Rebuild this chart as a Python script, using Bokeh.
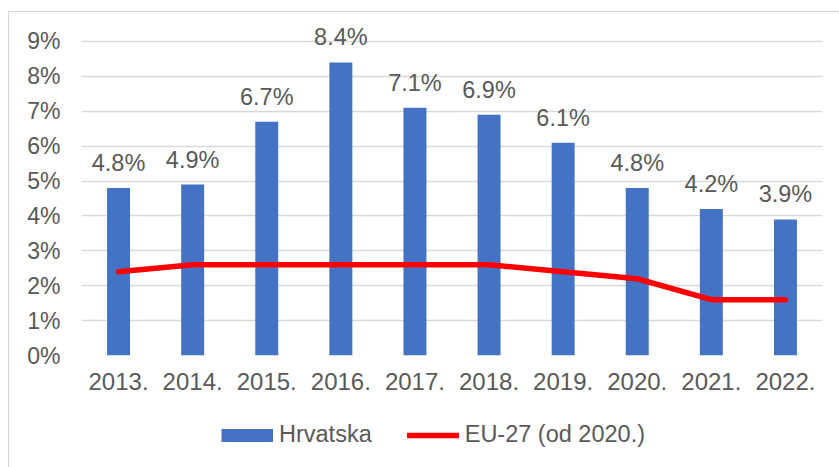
from bokeh.plotting import figure
from bokeh.models import ColumnDataSource, Range1d, FixedTicker, Legend, LegendItem
from bokeh.layouts import column
from bokeh.core.properties import value
from bokeh.embed import file_html
from bokeh.resources import INLINE

years = ["2013.", "2014.", "2015.", "2016.", "2017.", "2018.", "2019.", "2020.", "2021.", "2022."]
hrvatska = [4.8, 4.9, 6.7, 8.4, 7.1, 6.9, 6.1, 4.8, 4.2, 3.9]
eu27 = [2.4, 2.6, 2.6, 2.6, 2.6, 2.6, 2.4, 2.2, 1.6, 1.6]
y_ticks = [0, 1, 2, 3, 4, 5, 6, 7, 8, 9]
y_tick_labels = ["0%", "1%", "2%", "3%", "4%", "5%", "6%", "7%", "8%", "9%"]
bar_labels = [f"{v}%" for v in hrvatska]
series_names = ["Hrvatska", "EU-27 (od 2020.)"]

FONT = "Liberation Sans"
TXT = "#595959"
BLUE = "#4472C4"
RED = "#FF0000"

src = ColumnDataSource(dict(x=years, h=hrvatska, eu=eu27, lab=bar_labels))

p1 = figure(x_range=years, y_range=Range1d(0, 9.6), width=830, height=396,
            output_backend="svg", toolbar_location=None,
            min_border_left=72, min_border_right=17, min_border_top=8, min_border_bottom=53)
p1.outline_line_color = None
p1.background_fill_color = "white"
p1.border_fill_color = "white"

p1.vbar(x="x", top="h", width=0.31, source=src, fill_color=BLUE, line_color=None)
p1.line(x="x", y="eu", source=src, line_color=RED, line_width=5.5,
        line_cap="round", line_join="round")
p1.text(x="x", y="h", text="lab", source=src, text_align="center", text_baseline="alphabetic",
        y_offset=-25, text_font=value(FONT), text_font_size="23.5px", text_color=TXT)

p1.xaxis.axis_line_color = None
p1.xaxis.major_tick_line_color = None
p1.xaxis.minor_tick_line_color = None
p1.xaxis.major_tick_out = 0
p1.xaxis.major_tick_in = 0
p1.xaxis.major_label_standoff = 17
p1.xaxis.major_label_text_font = FONT
p1.xaxis.major_label_text_font_size = "24px"
p1.xaxis.major_label_text_color = TXT

p1.yaxis.ticker = FixedTicker(ticks=y_ticks)
p1.yaxis.major_label_overrides = {t: l for t, l in zip(y_ticks, y_tick_labels)}
p1.yaxis.axis_line_color = None
p1.yaxis.major_tick_line_color = None
p1.yaxis.minor_tick_line_color = None
p1.yaxis.major_tick_out = 0
p1.yaxis.major_tick_in = 0
p1.yaxis.major_label_standoff = 21
p1.yaxis.major_label_text_font = FONT
p1.yaxis.major_label_text_font_size = "23px"
p1.yaxis.major_label_text_color = TXT

p1.xgrid.grid_line_color = None
p1.ygrid.grid_line_color = "#d9d9d9"
p1.ygrid.grid_line_width = 1.5

# legend strip (its renderers use the same data, kept out of its visible range)
p2 = figure(x_range=p1.x_range, y_range=Range1d(20, 21), width=830, height=59,
            output_backend="svg", toolbar_location=None,
            x_axis_location=None, y_axis_location=None,
            min_border_left=0, min_border_right=0, min_border_top=0, min_border_bottom=0)
p2.outline_line_color = None
p2.xgrid.grid_line_color = None
p2.ygrid.grid_line_color = None
p2.background_fill_color = "white"
p2.border_fill_color = "white"
r_bar = p2.line(x="x", y="h", source=src, line_color=BLUE, line_width=13, line_cap="butt")
r_line = p2.line(x="x", y="eu", source=src, line_color=RED, line_width=5.5, line_cap="round")

legend = Legend(items=[LegendItem(label=series_names[0], renderers=[r_bar]),
                       LegendItem(label=series_names[1], renderers=[r_line])],
                orientation="horizontal", location=(140, 19),
                glyph_width=52, glyph_height=26, label_height=26, label_standoff=6,
                spacing=35, padding=0, margin=0,
                border_line_color=None, background_fill_alpha=0,
                label_text_font=FONT, label_text_font_size="23.5px", label_text_color=TXT)
p2.add_layout(legend, "center")

layout = column(p1, p2, spacing=0,
                styles={"margin-left": "8px", "margin-top": "11px",
                        "border-left": "1px solid #d9d9d9", "border-top": "1px solid #d9d9d9"})

open("out.html", "w").write(file_html(layout, INLINE))
